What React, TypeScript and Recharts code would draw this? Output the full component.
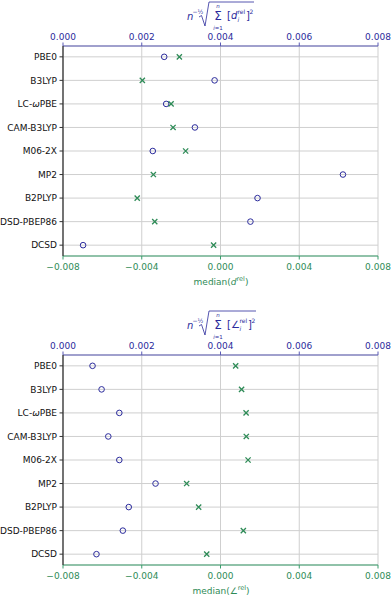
import React from 'react';
import { ScatterChart, Scatter, XAxis, YAxis, CartesianGrid } from 'recharts';

const methods = ['PBE0', 'B3LYP', 'LC-ωPBE', 'CAM-B3LYP', 'M06-2X', 'MP2', 'B2PLYP', 'DSD-PBEP86', 'DCSD'];
const rmsTicks = [0, 0.002, 0.004, 0.006, 0.008];
const medianTicks = [-0.008, -0.004, 0, 0.004, 0.008];
const rowTicks = [0, 1, 2, 3, 4, 5, 6, 7, 8];

// bond lengths
const bondRms = [0.00257, 0.00385, 0.00262, 0.00335, 0.00228, 0.00711, 0.00494, 0.00476, 0.00051];
const bondMedian = [-0.00209, -0.00397, -0.00251, -0.00241, -0.00177, -0.00341, -0.00423, -0.00334, -0.00035];
// angles
const angleRms = [0.00075, 0.00098, 0.00143, 0.00115, 0.00143, 0.00235, 0.00167, 0.00152, 0.00085];
const angleMedian = [0.00077, 0.00107, 0.0013, 0.00131, 0.0014, -0.00172, -0.00111, 0.00116, -0.0007];

const BLUE = '#2b2b9c';
const BLUE_AXIS = '#5a5ab4';
const GREEN = '#2e8b57';
const GREEN_AXIS = '#3a9d6c';
const FONT = 'DejaVu Sans';

const fmt = (v: number) => (v < 0 ? '\u2212' : '') + Math.abs(v).toFixed(3);

const TopTick = (p: any) => (
  <text x={p.x} y={p.y} textAnchor="middle" fontSize={9} fontFamily={FONT} fill={BLUE}>
    {fmt(p.payload.value)}
  </text>
);

const BottomTick = (p: any) => (
  <text x={p.x} y={p.y} dy={7} textAnchor="middle" fontSize={9} fontFamily={FONT} fill={GREEN}>
    {fmt(p.payload.value)}
  </text>
);

const RowTick = (p: any) => {
  const name = methods[p.payload.value] ?? '';
  const parts = name.split('ω');
  return (
    <text x={p.x} y={p.y} dy={3.3} textAnchor="end" fontSize={9} fontFamily={FONT} fill="#111">
      {parts.length > 1 ? (
        <>
          {parts[0]}
          <tspan fontStyle="italic">ω</tspan>
          {parts[1]}
        </>
      ) : (
        name
      )}
    </text>
  );
};

const Circle = (p: any) => <circle cx={p.cx} cy={p.cy} r={2.8} fill="none" stroke={BLUE} strokeWidth={1} />;
const Cross = (p: any) => (
  <path
    d={`M${p.cx - 2.6},${p.cy - 2.6}L${p.cx + 2.6},${p.cy + 2.6}M${p.cx + 2.6},${p.cy - 2.6}L${p.cx - 2.6},${p.cy + 2.6}`}
    stroke={GREEN}
    strokeWidth={1.3}
  />
);

function Labels({ sym, wide }: { sym: string; wide: number }) {
  const s = { fontFamily: FONT, fill: BLUE };
  const w = wide;
  return (
    <svg width={392} height={300} style={{ position: 'absolute', left: 0, top: 0, pointerEvents: 'none' }}>
      <text x={187} y={20} fontSize={10} fontStyle="italic" {...s}>n</text>
      <text x={192.5} y={14} fontSize={6} {...s}>−½</text>
      <path d={`M199,17 L201.5,15.5 L205,26 L209,2 L${254 + w},2`} fill="none" stroke={BLUE} strokeWidth={0.8} />
      <text x={218} y={7.5} fontSize={5.5} fontStyle="italic" textAnchor="middle" {...s}>n</text>
      <text x={218} y={20} fontSize={12} textAnchor="middle" {...s}>Σ</text>
      <text x={218} y={29.5} fontSize={5.5} textAnchor="middle" {...s}>
        <tspan fontStyle="italic">i</tspan>=1
      </text>
      <text x={227} y={19} fontSize={10} {...s}>[</text>
      <text x={231} y={19} fontSize={10} fontStyle="italic" {...s}>{sym}</text>
      <text x={237.5 + w} y={13.5} fontSize={6} {...s}>rel</text>
      <text x={237.5 + w} y={22} fontSize={6} fontStyle="italic" {...s}>i</text>
      <text x={246 + w} y={19} fontSize={10} {...s}>]</text>
      <text x={249.5 + w} y={14} fontSize={6} {...s}>2</text>

      <text x={221} y={285} fontSize={9} fontFamily={FONT} fill={GREEN} textAnchor="middle">
        median(<tspan fontStyle="italic">{sym}</tspan>
        <tspan dy={-4} fontSize={6.5}>rel</tspan>
        <tspan dy={4}>)</tspan>
      </text>
    </svg>
  );
}

function Panel({ rms, median, height, bottomH, sym, wide }: any) {
  const rmsRows = methods.map((m, i) => ({ row: i, rms: rms[i] }));
  const medRows = methods.map((m, i) => ({ row: i, median: median[i] }));
  return (
    <div style={{ position: 'relative', width: 392, height }}>
      <ScatterChart width={392} height={height} margin={{ top: 0, right: 14, bottom: 0, left: 0 }}>
        <CartesianGrid xAxisId="bot" yAxisId="rows" stroke="#cfcfcf" strokeWidth={1} />
        <XAxis
          xAxisId="top"
          orientation="top"
          type="number"
          dataKey="rms"
          domain={[0, 0.008]}
          ticks={rmsTicks}
          interval={0}
          height={46}
          tickSize={3.5}
          tickMargin={3}
          tick={<TopTick />}
          axisLine={{ stroke: BLUE_AXIS, strokeWidth: 1.2 }}
          tickLine={{ stroke: BLUE_AXIS }}
        />
        <XAxis
          xAxisId="bot"
          orientation="bottom"
          type="number"
          dataKey="median"
          domain={[-0.008, 0.008]}
          ticks={medianTicks}
          interval={0}
          height={bottomH}
          tickSize={3.5}
          tickMargin={3}
          tick={<BottomTick />}
          axisLine={{ stroke: GREEN_AXIS, strokeWidth: 1.2 }}
          tickLine={{ stroke: GREEN_AXIS }}
        />
        <YAxis
          yAxisId="rows"
          type="number"
          dataKey="row"
          domain={[-0.46, 8.46]}
          reversed
          ticks={rowTicks}
          interval={0}
          width={63}
          tickSize={3.5}
          tickMargin={2.5}
          tick={<RowTick />}
          axisLine={{ stroke: '#333', strokeWidth: 1.3 }}
          tickLine={{ stroke: '#333' }}
        />
        <YAxis
          yAxisId="right"
          orientation="right"
          type="number"
          domain={[0, 1]}
          width={0}
          tick={false}
          tickLine={false}
          axisLine={{ stroke: '#333', strokeWidth: 1.3 }}
        />
        <Scatter xAxisId="top" yAxisId="rows" data={rmsRows} shape={<Circle />} isAnimationActive={false} />
        <Scatter xAxisId="bot" yAxisId="rows" data={medRows} shape={<Cross />} isAnimationActive={false} />
      </ScatterChart>
      <Labels sym={sym} wide={wide} />
    </div>
  );
}

export default function App() {
  return (
    <div style={{ position: 'absolute', left: 0, top: 0, width: 392, height: 596, background: '#fff' }}>
      <Panel rms={bondRms} median={bondMedian} height={309} bottomH={53} sym="d" wide={0} />
      <Panel rms={angleRms} median={angleMedian} height={287} bottomH={31} sym="∠" wide={2} />
    </div>
  );
}
